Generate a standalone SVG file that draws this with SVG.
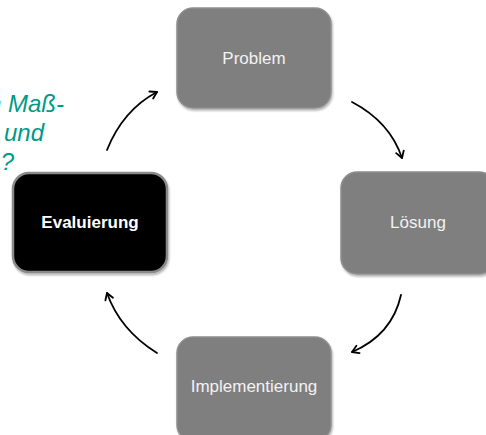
<svg xmlns="http://www.w3.org/2000/svg" width="486" height="435" viewBox="0 0 486 435">
  <defs>
    <style>
      .box { fill: #7f7f7f; stroke: #8e8e8e; stroke-width: 1.5; filter: url(#sh); }
      .dark { fill: #000000; stroke: #8a8a8a; stroke-width: 2.5; filter: url(#sh); }
      .lbl { font-family: "Liberation Sans", Arial, sans-serif; font-size: 17px; fill: #f2f2f2; text-anchor: middle; }
      .lblb { font-family: "Liberation Sans", Arial, sans-serif; font-size: 17px; font-weight: bold; fill: #ffffff; text-anchor: middle; }
      .q { font-family: "Liberation Sans", Arial, sans-serif; font-size: 24px; font-style: italic; fill: #009a85; text-anchor: end; }
      .arr { fill: none; stroke: #000; stroke-width: 1.8; stroke-linecap: round; marker-end: url(#ah); }
    </style>
    <filter id="sh" x="-10%" y="-10%" width="125%" height="130%">
      <feDropShadow dx="1" dy="2" stdDeviation="1.2" flood-color="#000" flood-opacity="0.3"/>
    </filter>
    <marker id="ah" markerUnits="userSpaceOnUse" markerWidth="12" markerHeight="12" refX="9" refY="6" orient="auto">
      <path d="M2.5,2 L9,6 L2.5,10" fill="none" stroke="#000" stroke-width="1.8" stroke-linecap="round" stroke-linejoin="round"/>
    </marker>
  </defs>
  <rect width="486" height="435" fill="#ffffff"/>

  <g id="question">
    <text class="q" x="64" y="112">n Maß-</text>
    <text class="q" x="44" y="141">und</text>
    <text class="q" x="14" y="170">?</text>
  </g>

  <g id="connectors">
    <path class="arr" d="M107,150 Q123,110 157,92"/>
    <path class="arr" d="M352,102 Q390,122 402,158"/>
    <path class="arr" d="M401,295 Q392,335 352,352"/>
    <path class="arr" d="M157,353 Q120,330 107,293"/>
  </g>

  <g id="problem">
    <rect class="box" x="177" y="8" width="154" height="100" rx="16"/>
    <text class="lbl" x="254" y="64">Problem</text>
  </g>
  <g id="loesung">
    <rect class="box" x="341" y="172" width="154" height="102" rx="16"/>
    <text class="lbl" x="418" y="228">Lösung</text>
  </g>
  <g id="implementierung">
    <rect class="box" x="177" y="337" width="154" height="104" rx="16"/>
    <text class="lbl" x="254" y="392">Implementierung</text>
  </g>
  <g id="evaluierung">
    <rect class="dark" x="13" y="173" width="154" height="99" rx="16"/>
    <text class="lblb" x="90" y="228">Evaluierung</text>
  </g>
</svg>
